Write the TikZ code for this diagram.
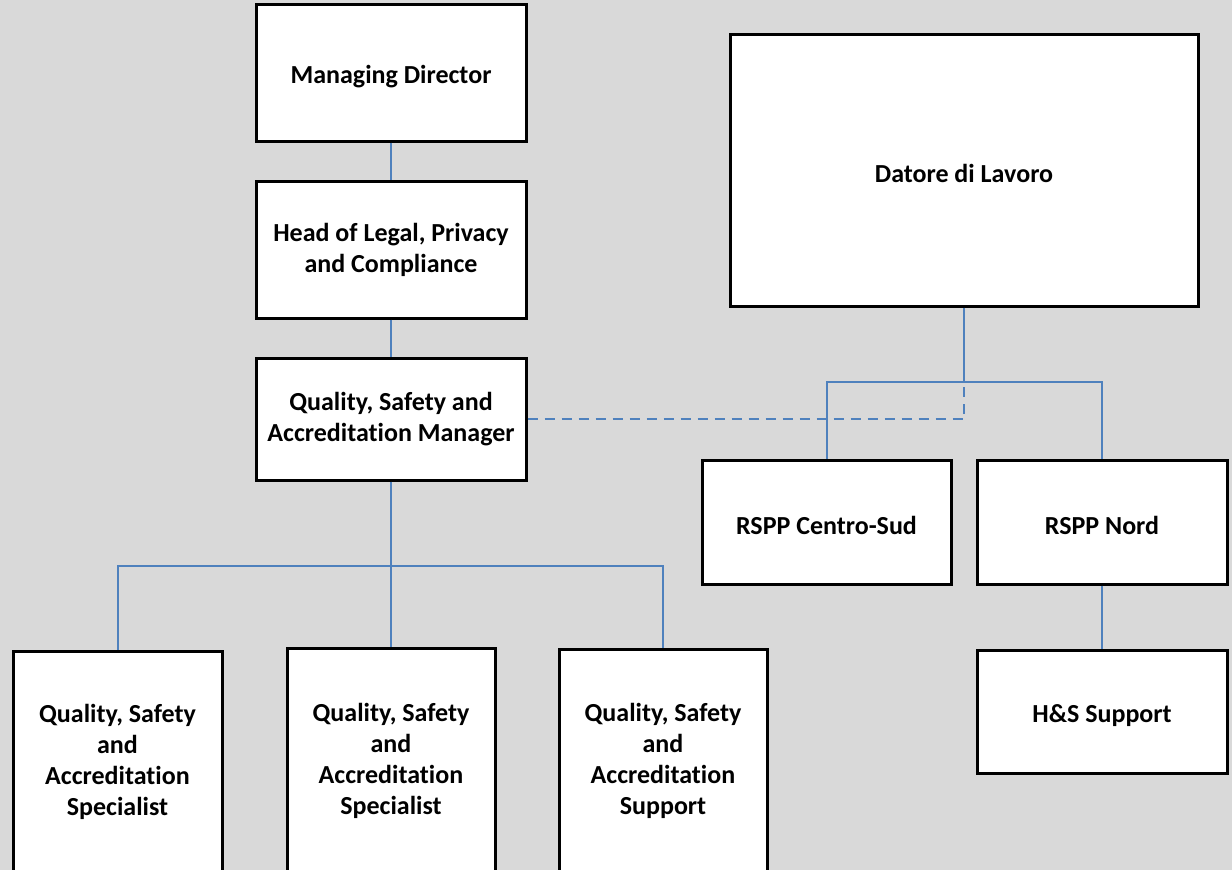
\documentclass[tikz,border=0pt]{standalone}
\usepackage{fontspec}
\setmainfont{Carlito}[RawFeature=-liga]
\definecolor{bggray}{RGB}{217,217,217}
\definecolor{linkblue}{RGB}{79,129,189}
\tikzset{
	box/.style = {draw, line width=3pt, fill=white, align=center, inner sep=0pt,
		font=\fontsize{26}{31}\selectfont\bfseries,
		execute at begin node={\rule{0pt}{26pt}}},
	link/.style = {draw=linkblue, line width=2pt},
	dashlink/.style = {link, dash pattern=on 10pt off 7pt}
}

\begin{document}
\begin{tikzpicture} [x=1pt, y=-1pt]
	\fill [bggray] (0,0) rectangle (1232,870);
	\useasboundingbox (0,0) rectangle (1232,870);
	% left column
	\node [box, minimum width=270pt, minimum height=137pt] (md) at (391,72.5) {Managing Director};
	\node [box, minimum width=270pt, minimum height=137pt] (hl) at (391,249.5) {Head of Legal, Privacy\\and Compliance};
	\node [box, minimum width=270pt, minimum height=122pt] (qm) at (391,419) {Quality, Safety and\\Accreditation Manager};
	\node [box, minimum width=209pt, minimum height=222pt] (s1) at (117.5,762) {Quality, Safety\\and\\Accreditation\\Specialist};
	\node [box, minimum width=208pt, minimum height=225pt] (s2) at (391,760.5) {Quality, Safety\\and\\Accreditation\\Specialist};
	\node [box, minimum width=208pt, minimum height=224pt] (s3) at (663,761) {Quality, Safety\\and\\Accreditation\\Support};
	% right column
	\node [box, minimum width=468pt, minimum height=272pt] (dl) at (964,170) {Datore di Lavoro};
	\node [box, minimum width=249pt, minimum height=124pt] (rc) at (826.5,522) {RSPP Centro-Sud};
	\node [box, minimum width=250pt, minimum height=124pt] (rn) at (1102,522) {RSPP Nord};
	\node [box, minimum width=250pt, minimum height=123pt] (hs) at (1102,711.5) {H\&S Support};
	% connectors
	\coordinate (qbus) at (391,566);
	\coordinate (dbus) at (964,382);
	\draw [link] (md.south) -- (hl.north);
	\draw [link] (hl.south) -- (qm.north);
	\draw [link] (qm.south) -- (qbus);
	\draw [link] (s1.north) |- (qbus) -| (s3.north);
	\draw [link] (qbus) -- (s2.north);
	\draw [link] (dl.south) -- (dbus);
	\draw [link] (rc.north) |- (dbus) -| (rn.north);
	\draw [link] (rn.south) -- (hs.north);
	\draw [dashlink] (qm.east) -| (dbus);
\end{tikzpicture}
\end{document}
